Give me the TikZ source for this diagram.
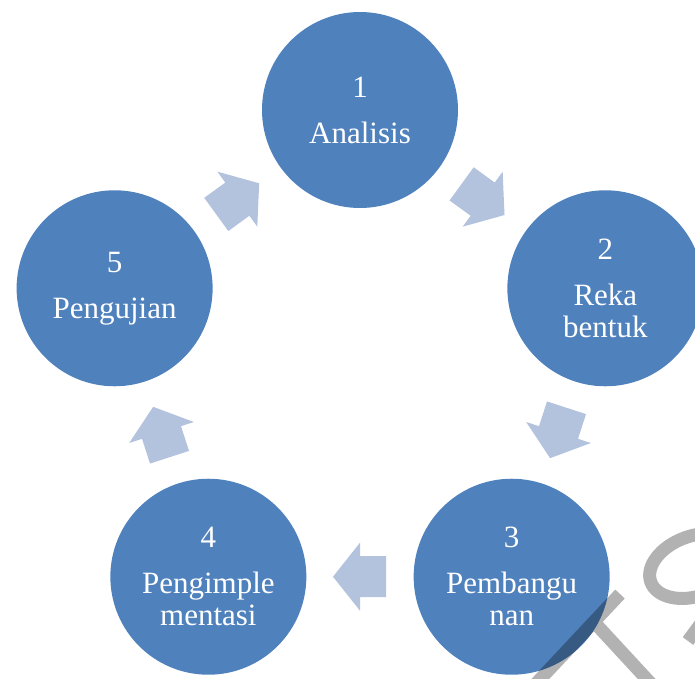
\documentclass[tikz,border=0pt]{standalone}
\usepackage{fontspec}
\setmainfont{Liberation Serif}
\usepackage{tikz}

\definecolor{stageblue}{RGB}{79,129,189}
\definecolor{flowblue}{RGB}{179,195,222}

\begin{document}
\begin{tikzpicture}[x=1pt,y=1pt,
    stage/.style={circle, fill=stageblue, minimum size=196pt, inner sep=0pt,
        text=white, align=center, font=\fontsize{31}{32}\selectfont},
    flow/.style={fill=flowblue},
    wmark/.style={line width=13pt, black}]
    \useasboundingbox (-360,-310) rectangle (335,368);
    \clip (-360,-310) rectangle (335,368);

    \coordinate (O) at (0,0); % centre of the cycle

    % the five stages
    \node[stage] (c1) at (90:258)   {1\\[14pt]Analisis};
    \node[stage] (c2) at (18:258)   {2\\[14pt]Reka\\bentuk};
    \node[stage] (c3) at (-54:258)  {3\\[14pt]Pembangu\\nan};
    \node[stage] (c4) at (-126:258) {4\\[14pt]Pengimple\\mentasi};
    \node[stage] (c5) at (162:258)  {5\\[14pt]Pengujian};

    % block arrows halfway between neighbours
    \foreach \a in {90,18,-54,-126,162}{
        \fill[flow, shift={(\a-36:208.7)}, rotate=\a-126]
            (-26,20.5) -- (0,20.5) -- (0,34) -- (27,0) -- (0,-34)
            -- (0,-20.5) -- (-26,-20.5) -- cycle;
    }

    % watermark strokes
    \begin{scope}[transparency group, opacity=0.3]
        \draw[wmark] (260,-226) -- (170,-322);
        \draw[wmark] (234,-254) -- (295,-320);
        \draw[wmark, rotate around={20:(335,-198)}] (335,-198) ellipse (47 and 30);
        \draw[wmark] (342,-254) -- (328,-273);
    \end{scope}
\end{tikzpicture}
\end{document}
